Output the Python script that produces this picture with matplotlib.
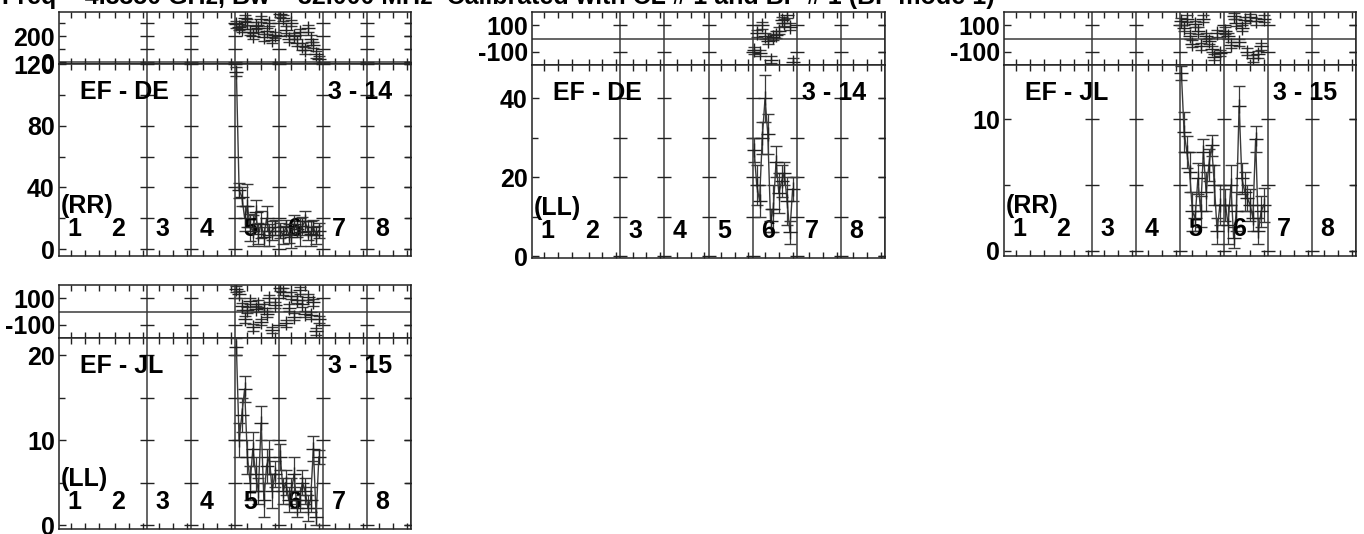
import matplotlib
matplotlib.use("Agg")
import matplotlib.pyplot as plt

W, H = 1364, 534
FONT = ["Liberation Sans", "DejaVu Sans"]
FS = 18
INK = "#222222"
LINE = "#3a3a3a"

TITLE = "Freq = 4.8350 GHz, Bw = 32.000 MHz  Calibrated with CL # 1 and BP # 1 (BP mode 1)"
IF_LABELS = ["1", "2", "3", "4", "5", "6", "7", "8"]
NCHAN = 16
CHANS = list(range(1, 16))

# ---- data: EF - DE (RR) ----
p1_amp5 = [115, 38, 34, 20, 28, 14, 12, 24, 10, 16, 8, 20, 9, 12, 14]
p1_err5 = [3, 5, 6, 8, 14, 9, 10, 8, 7, 9, 6, 8, 7, 6, 5]
p1_amp6 = [12, 9, 14, 10, 8, 16, 13, 11, 15, 18, 12, 10, 14, 9, 12]
p1_err6 = [5, 6, 5, 6, 7, 6, 5, 9, 6, 7, 6, 8, 5, 6, 5]
p1_ph5 = [290, 270, 255, 340, 310, 230, 200, 280, 260, 330, 190, 240, 300, 170, 210]
p1_ph6 = [370, 340, 250, 180, 300, 200, 150, 230, 120, 90, 260, 180, 130, 60, 20]

# ---- data: EF - DE (LL) ----
p2_amp6 = [27, 18, 14, 30, 40, 31, 9, 12, 24, 16, 19, 21, 14, 6, 17]
p2_err6 = [3, 5, 4, 4, 6, 5, 3, 6, 4, 5, 4, 3, 6, 3, 3]
p2_ph6 = [-90, 40, -110, 100, 20, -20, -160, 10, 30, 60, 140, 120, 180, 90, -175]

# ---- data: EF - JL (RR) ----
p3_amp5 = [13.5, 9, 7.5, 6, 3, 2.5, 5.5, 3, 7.5, 4.5, 6.5, 8, 5, 1.5, 3.5]
p3_err5 = [0.5, 1.5, 1.2, 1.5, 1.5, 1, 1.2, 1.2, 1, 1.5, 1.2, 0.8, 1.5, 1, 1.5]
p3_amp6 = [3.5, 2, 5, 1, 3, 11, 5.5, 4.5, 4, 3.5, 2.5, 8.5, 1.5, 3, 3.5]
p3_err6 = [1.2, 1.5, 1.5, 0.8, 1.5, 1.5, 1.2, 1.5, 1, 1.2, 1, 1, 1, 1.2, 1.3]
p3_ph5 = [130, 80, 150, 20, -40, 110, 60, -60, 150, 20, -20, -80, -140, 40, -110]
p3_ph6 = [60, 20, -50, 170, 120, -30, 80, 140, -100, 160, -150, 130, -120, -60, 150]

# ---- data: EF - JL (LL) ----
p4_amp5 = [21, 10, 13, 16, 8, 5, 9, 6, 4, 12, 3, 7, 8, 4, 6]
p4_err5 = [1, 2, 2, 1.5, 2, 2, 2, 2, 1.5, 2, 2, 2, 2, 2, 1.5]
p4_amp6 = [8, 4, 5, 3, 4, 6, 2, 3, 5, 4, 2, 3, 9, 1, 8]
p4_err6 = [1.5, 1.5, 1.5, 1.5, 1.5, 2, 1, 1.5, 1.5, 1.5, 1.5, 1.5, 1.5, 1, 0.8]
p4_ph5 = [170, 130, 40, -60, 10, 80, -120, 20, 60, -80, 30, -20, 100, -140, 50]
p4_ph6 = [180, 150, -90, 30, 120, -40, 90, 160, 60, -20, 110, -30, 70, -150, -60]

PH_ERR = 25

# panel geometry in pixels: left, right, top, phase/amp split, bottom
panels = [
    dict(box=(59, 411, 12, 64, 256), base="EF - DE", tag="3 - 14", pol="(RR)",
         amp={5: (p1_amp5, p1_err5), 6: (p1_amp6, p1_err6)}, ph={5: p1_ph5, 6: p1_ph6},
         aylim=(-4.5, 120), amaj=[0, 40, 80, 120], amin=[20, 60, 100],
         pylim=(-15, 385), pmaj=[0, 200], pmin=[100, 300]),
    dict(box=(532, 885, 12, 65, 258), base="EF - DE", tag="3 - 14", pol="(LL)",
         amp={6: (p2_amp6, p2_err6)}, ph={6: p2_ph6},
         aylim=(-0.5, 48.5), amaj=[0, 20, 40], amin=[10, 30],
         pylim=(-200, 200), pmaj=[-100, 100], pmin=[]),
    dict(box=(1004, 1356, 12, 65, 256), base="EF - JL", tag="3 - 15", pol="(RR)",
         amp={5: (p3_amp5, p3_err5), 6: (p3_amp6, p3_err6)}, ph={5: p3_ph5, 6: p3_ph6},
         aylim=(-0.38, 14.1), amaj=[0, 10], amin=[5],
         pylim=(-200, 200), pmaj=[-100, 100], pmin=[]),
    dict(box=(59, 411, 285, 338, 529), base="EF - JL", tag="3 - 15", pol="(LL)",
         amp={5: (p4_amp5, p4_err5), 6: (p4_amp6, p4_err6)}, ph={5: p4_ph5, 6: p4_ph6},
         aylim=(-0.47, 22), amaj=[0, 10, 20], amin=[5, 15],
         pylim=(-200, 200), pmaj=[-100, 100], pmin=[]),
]

fig = plt.figure(figsize=(W / 100, H / 100), dpi=100)
seps = [16.5 + 16 * k for k in range(1, 8)]
xminor = [16 * k + j for k in range(8) for j in (5, 10, 15)]


def style(ax, ylim, maj, mnr):
    ax.set_xlim(0.5, 128.5)
    ax.set_ylim(*ylim)
    ax.set_xticks(seps, [])
    ax.set_xticks(xminor, minor=True)
    ax.set_yticks(maj, [str(v) for v in maj])
    ax.set_yticks(mnr, minor=True)
    ax.tick_params(which="both", direction="in", top=True, right=True,
                   labelbottom=False, color=INK, width=1)
    ax.tick_params(which="major", length=5, labelsize=FS, pad=3)
    ax.tick_params(which="minor", length=4)
    ax.tick_params(axis="x", which="major", length=0)
    for lab in ax.get_yticklabels():
        lab.set_fontweight("bold")
        lab.set_family(FONT)
    for s in ax.spines.values():
        s.set_linewidth(1.1)
        s.set_color(INK)
    for x in seps:
        ax.axvline(x, color=LINE, lw=1.1, zorder=1)
        ax.plot([x] * len(maj + mnr), maj + mnr, ls="none", marker="_",
                ms=10, mew=1, color=INK, zorder=1)


for p in panels:
    l, r, t, m, b = p["box"]
    ax_p = fig.add_axes([l / W, 1 - m / H, (r - l) / W, (m - t) / H])
    ax_a = fig.add_axes([l / W, 1 - b / H, (r - l) / W, (b - m) / H])
    style(ax_p, p["pylim"], p["pmaj"], p["pmin"])
    style(ax_a, p["aylim"], p["amaj"], p["amin"])
    ax_p.axhline(0, color=LINE, lw=1.1, zorder=1)

    for k, vals in p["ph"].items():
        xs = [(k - 1) * NCHAN + c for c in CHANS]
        ax_p.errorbar(xs, vals, yerr=PH_ERR, fmt="+", ms=10, mew=1, color=INK,
                      ecolor=LINE, elinewidth=0.9, capsize=4, capthick=1, zorder=3)
    for k, (vals, err) in p["amp"].items():
        xs = [(k - 1) * NCHAN + c for c in CHANS]
        ax_a.plot(xs, vals, color=LINE, lw=1, zorder=2)
        ax_a.errorbar(xs, vals, yerr=err, fmt="+", ms=10, mew=1, color=INK,
                      ecolor=LINE, elinewidth=0.9, capsize=4, capthick=1, zorder=3)

    hpx = b - m
    ax_a.text(21 / (r - l), 1 - 28 / hpx, p["base"], transform=ax_a.transAxes,
              ha="left", va="center", fontsize=FS, fontweight="bold", family=FONT)
    ax_a.text(1 - 19 / (r - l), 1 - 28 / hpx, p["tag"], transform=ax_a.transAxes,
              ha="right", va="center", fontsize=FS, fontweight="bold", family=FONT)
    ax_a.text(2 / (r - l), 50 / hpx, p["pol"], transform=ax_a.transAxes,
              ha="left", va="center", fontsize=FS, fontweight="bold", family=FONT)
    for i, lab in enumerate(IF_LABELS):
        xf = (i + 15.5 / 44) / 8
        ax_a.text(xf, 27 / hpx, lab, transform=ax_a.transAxes, ha="center",
                  va="center", fontsize=FS, fontweight="bold", family=FONT)

fig.text(2 / W, 1 - 4 / H, TITLE, ha="left", va="baseline", fontsize=FS,
         fontweight="bold", family=FONT)

fig.savefig("out.png", dpi=100)
